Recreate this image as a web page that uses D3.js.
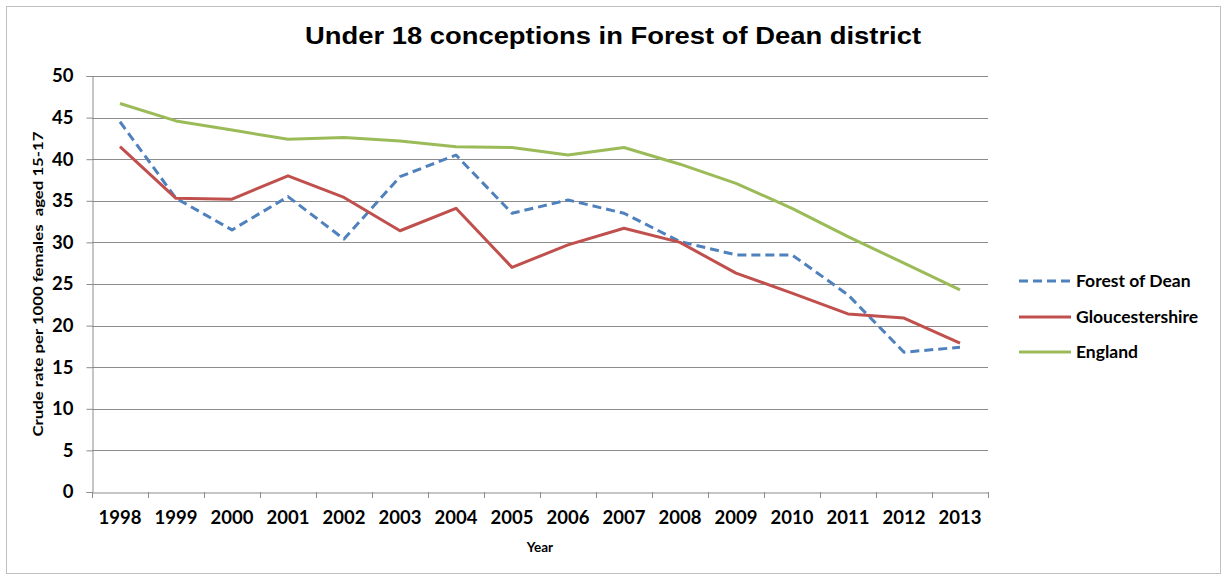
<!DOCTYPE html>
<html><head><meta charset="utf-8">
<script src="https://cdn.jsdelivr.net/npm/d3@7"></script>
<style>body{margin:0;background:#fff;} svg{display:block;}</style>
</head><body>
<svg id="chart" width="1224" height="576"></svg>
<script>
const years = ["1998","1999","2000","2001","2002","2003","2004","2005","2006","2007","2008","2009","2010","2011","2012","2013"];
const forestOfDean = [44.5,35.3,31.5,35.5,30.4,37.9,40.5,33.5,35.1,33.5,30.1,28.5,28.5,23.7,16.8,17.4];
const gloucestershire = [41.5,35.3,35.2,38.0,35.4,31.4,34.1,27.0,29.7,31.7,30.0,26.3,23.9,21.4,20.9,17.9];
const england = [46.7,44.6,43.5,42.4,42.6,42.2,41.5,41.4,40.5,41.4,39.4,37.1,34.1,30.7,27.5,24.3];
const yTicks = [0,5,10,15,20,25,30,35,40,45,50];
const seriesNames = ["Forest of Dean","Gloucestershire","England"];
const seriesColors = ["#4F81BD","#C0504D","#9BBB59"];
const seriesData = [forestOfDean, gloucestershire, england];

const svg = d3.select("#chart");
const font = "Lato, 'Open Sans', sans-serif";
const pLeft = 92, pRight = 988, pTop = 76, pBottom = 492;

svg.append("rect").attr("x",6.5).attr("y",6.5).attr("width",1214).attr("height",567)
  .attr("fill","#fff").attr("stroke","#bfbfbf").attr("stroke-width",1);

svg.append("text").attr("x",305).attr("y",44)
  .attr("font-family","'Liberation Sans', Arial, sans-serif").attr("font-weight","bold")
  .attr("font-size",23).attr("fill","#000")
  .attr("textLength",616).attr("lengthAdjust","spacingAndGlyphs")
  .text("Under 18 conceptions in Forest of Dean district");

const x = d3.scaleBand().domain(years).range([pLeft,pRight]).padding(0);
const y = d3.scaleLinear().domain([0,50]).range([pBottom,pTop]);

svg.append("g").selectAll("line").data(yTicks.filter(d=>d>0)).join("line")
  .attr("x1",pLeft).attr("x2",pRight).attr("y1",d=>Math.round(y(d))+0.5).attr("y2",d=>Math.round(y(d))+0.5)
  .attr("stroke","#8c8c8c").attr("stroke-width",1);

const yAxis = svg.append("g").attr("transform",`translate(${pLeft+0.5},0)`)
  .call(d3.axisLeft(y).tickValues(yTicks).tickSize(6).tickPadding(13));
yAxis.select(".domain").attr("stroke","#8c8c8c");
yAxis.selectAll(".tick line").attr("stroke","#8c8c8c");
yAxis.selectAll(".tick text").attr("font-family",font).attr("font-weight","bold").attr("font-size",18.5).attr("fill","#000");

const xAxis = svg.append("g").attr("transform",`translate(0,${pBottom+0.5})`)
  .call(d3.axisBottom(x).tickSize(0).tickPadding(18));
xAxis.select(".domain").attr("stroke","#8c8c8c");
xAxis.selectAll(".tick text").attr("font-family",font).attr("font-weight","bold").attr("font-size",18.5).attr("fill","#000");
const bounds = years.map(d=>x(d)).concat([pRight]);
svg.append("g").selectAll("line").data(bounds).join("line")
  .attr("x1",d=>Math.round(d)+0.5).attr("x2",d=>Math.round(d)+0.5)
  .attr("y1",pBottom).attr("y2",pBottom+6).attr("stroke","#8c8c8c");

svg.append("text").attr("x",540).attr("y",552).attr("text-anchor","middle")
  .attr("font-family",font).attr("font-weight","bold").attr("font-size",13.5).text("Year");
svg.append("text").attr("transform",`translate(43,${(pTop+pBottom)/2}) rotate(-90)`).attr("text-anchor","middle")
  .attr("font-family",font).attr("font-weight","bold").attr("font-size",13.5).attr("xml:space","preserve")
  .attr("textLength",305).attr("lengthAdjust","spacingAndGlyphs")
  .text("Crude rate per 1000 females  aged 15-17");

const line = d3.line().x((d,i)=>x(years[i])+x.bandwidth()/2).y(d=>y(d));
seriesData.forEach((data,k)=>{
  svg.append("path").datum(data).attr("d",line).attr("fill","none")
    .attr("stroke",seriesColors[k]).attr("stroke-width",3)
    .attr("stroke-dasharray",k===0?"9,5":null).attr("stroke-linejoin","round");
});

const legendY = [281,317,352];
const lg = svg.append("g").selectAll("g").data(seriesNames).join("g")
  .attr("transform",(d,i)=>`translate(1019,${legendY[i]})`);
lg.append("line").attr("x1",0).attr("x2",52).attr("y1",0).attr("y2",0)
  .attr("stroke",(d,i)=>seriesColors[i]).attr("stroke-width",3)
  .attr("stroke-dasharray",(d,i)=>i===0?"9,5":null);
lg.append("text").attr("x",57).attr("y",6).attr("font-family",font).attr("font-weight","bold")
  .attr("font-size",17.5).attr("fill","#000").text(d=>d);
</script>
</body></html>
